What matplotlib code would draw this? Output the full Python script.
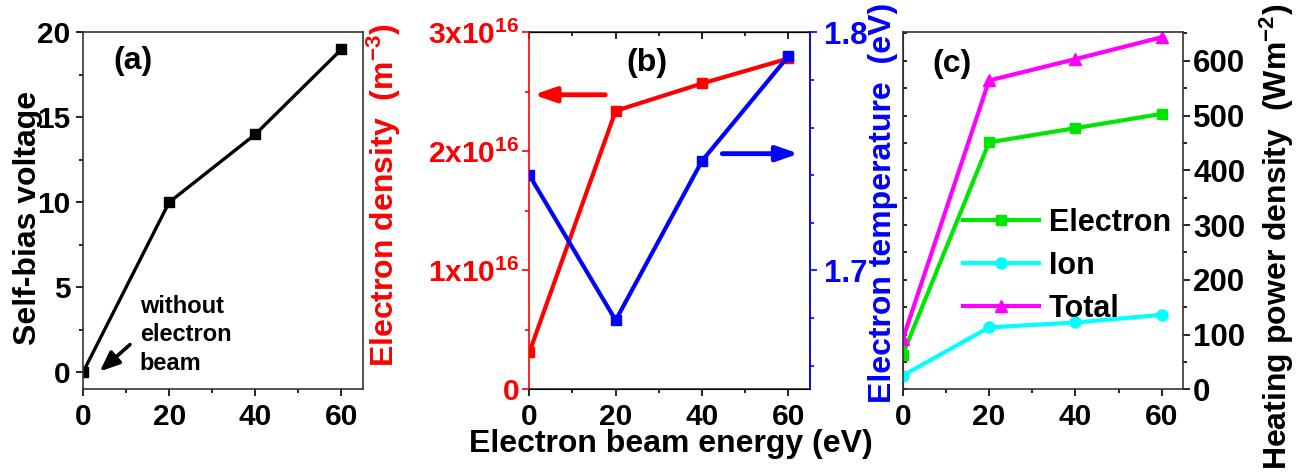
import matplotlib
matplotlib.use("Agg")
import matplotlib.pyplot as plt
import numpy as np
from matplotlib.ticker import FixedLocator, FixedFormatter, MultipleLocator

plt.rcParams['font.family'] = 'Liberation Sans'
plt.rcParams['font.weight'] = 'bold'
plt.rcParams['axes.labelweight'] = 'bold'
plt.rcParams['mathtext.fontset'] = 'custom'
plt.rcParams['mathtext.rm'] = 'Liberation Sans:bold'
plt.rcParams['mathtext.bf'] = 'Liberation Sans:bold'
plt.rcParams['mathtext.default'] = 'bf'

# data
energy = [0, 20, 40, 60]
self_bias = [0, 10, 14, 19]
density = [0.31e16, 2.34e16, 2.57e16, 2.78e16]
temperature = [1.740, 1.679, 1.746, 1.790]
heat_electron = [63, 451, 477, 503]
heat_ion = [25, 113, 122, 136]
heat_total = [91, 564, 603, 643]

density_ticks = [0, 1e16, 2e16, 3e16]
density_labels = ['0', '1x10$^{16}$', '2x10$^{16}$', '3x10$^{16}$']

RED = '#ff0000'
BLUE = '#0000ff'
GREEN = '#00e600'
CYAN = '#00ffff'
MAGENTA = '#ff00ff'

TICK_FS = 21.5
LABEL_FS = 23
LW = 2.4
MS = 7.5

fig = plt.figure(figsize=(13.04, 4.76), dpi=100)
W, H = 1304, 476


def make_axes(left, right, top=32.3, bottom=389.3):
    return fig.add_axes([left / W, (H - bottom) / H, (right - left) / W, (bottom - top) / H])


def style_bottom(ax):
    ax.set_xlim(0, 65)
    ax.xaxis.set_major_locator(MultipleLocator(20))
    ax.xaxis.set_minor_locator(MultipleLocator(10))
    ax.tick_params(axis='x', which='major', direction='out', length=5, width=1.2,
                   labelsize=TICK_FS, pad=5)
    ax.tick_params(axis='x', which='minor', direction='out', length=3, width=1.2)
    for s in ax.spines.values():
        s.set_linewidth(1.2)
        s.set_color('#333333')


# ---------------- (a)
ax_a = make_axes(83, 363)
ax_a.plot(energy, self_bias, color='k', lw=LW, marker='s', ms=MS)
style_bottom(ax_a)
ax_a.set_ylim(-1, 20)
ax_a.yaxis.set_major_locator(MultipleLocator(5))
ax_a.yaxis.set_minor_locator(MultipleLocator(2.5))
ax_a.tick_params(axis='y', which='major', direction='out', length=5, width=1.2,
                 labelsize=TICK_FS, pad=4)
ax_a.tick_params(axis='y', which='minor', direction='out', length=3, width=1.2)
ax_a.set_ylabel('Self-bias voltage', fontsize=LABEL_FS)
ax_a.yaxis.set_label_coords(-0.143, 0.48)
ax_a.text(0.107, 0.92, '(a)', transform=ax_a.transAxes, fontsize=23, ha='left', va='center')
ax_a.text(13.2, 2.2, 'without\nelectron\nbeam', fontsize=17, ha='left', va='center',
          linespacing=1.3)
ax_a.annotate('', xy=(3.9, 0.05), xytext=(10.9, 1.63),
              arrowprops=dict(arrowstyle='-|>,head_length=1.2,head_width=0.5',
                              lw=2.6, color='k', shrinkA=0, shrinkB=0))

# ---------------- (b)
ax_b = make_axes(529.3, 810)
ax_b.plot(energy, density, color=RED, lw=LW + 0.6, marker='s', ms=MS)
style_bottom(ax_b)
ax_b.set_ylim(0, 3e16)
ax_b.yaxis.set_major_locator(FixedLocator(density_ticks))
ax_b.yaxis.set_major_formatter(FixedFormatter(density_labels))
ax_b.yaxis.set_minor_locator(MultipleLocator(0.5e16))
ax_b.tick_params(axis='y', which='major', direction='out', length=5, width=1.2,
                 labelsize=TICK_FS, pad=2, colors=RED)
ax_b.tick_params(axis='y', which='minor', direction='out', length=3, width=1.2, colors=RED)
ax_b.spines['left'].set_color(RED)
ax_b.set_ylabel('Electron density  (m$^{-3}$)', fontsize=LABEL_FS, color=RED)
ax_b.yaxis.set_label_coords(-0.45, 0.544)
ax_b.set_xlabel('Electron beam energy (eV)', fontsize=LABEL_FS)
ax_b.xaxis.set_label_coords(0.505, -0.112)
top_b = ax_b.secondary_xaxis('top')
top_b.xaxis.set_major_locator(MultipleLocator(20))
top_b.xaxis.set_minor_locator(MultipleLocator(10))
top_b.tick_params(which='both', direction='in', labeltop=False, width=1.2)
top_b.tick_params(which='major', length=5)
top_b.tick_params(which='minor', length=3)
ax_b.annotate('', xy=(1.0, 2.475e16), xytext=(17.6, 2.475e16),
              arrowprops=dict(arrowstyle='-|>,head_length=1.3,head_width=0.45',
                              lw=3.5, color=RED, shrinkA=0, shrinkB=0))
ax_b.text(0.42, 0.915, '(b)', transform=ax_b.transAxes, fontsize=23, ha='center', va='center')

ax_t = ax_b.twinx()
ax_t.plot(energy, temperature, color=BLUE, lw=LW + 0.6, marker='s', ms=MS)
ax_t.set_ylim(1.65, 1.8)
ax_t.yaxis.set_major_locator(FixedLocator([1.7, 1.8]))
ax_t.yaxis.set_major_formatter(FixedFormatter(['1.7', '1.8']))
ax_t.yaxis.set_minor_locator(MultipleLocator(0.02))
ax_t.tick_params(axis='y', which='major', direction='out', length=5, width=1.2,
                 labelsize=TICK_FS + 1, pad=5, colors=BLUE)
ax_t.tick_params(axis='y', which='minor', direction='out', length=3, width=1.2, colors=BLUE)
ax_t.spines['right'].set_color(BLUE)
ax_t.spines['right'].set_linewidth(1.2)
ax_t.spines['left'].set_visible(False)
ax_t.set_ylabel('Electron temperature  (eV)', fontsize=LABEL_FS, color=BLUE)
ax_t.yaxis.set_label_coords(1.207, 0.522)
ax_t.annotate('', xy=(62.4, 1.749), xytext=(44.7, 1.749),
              arrowprops=dict(arrowstyle='-|>,head_length=1.3,head_width=0.45',
                              lw=3.5, color=BLUE, shrinkA=0, shrinkB=0))

# ---------------- (c)
ax_c = make_axes(902.7, 1183.3)
ax_c.plot(energy, heat_electron, color=GREEN, lw=LW + 0.6, marker='s', ms=MS, label='Electron')
ax_c.plot(energy, heat_ion, color=CYAN, lw=LW + 0.6, marker='o', ms=MS + 0.5, label='Ion')
ax_c.plot(energy, heat_total, color=MAGENTA, lw=LW + 0.6, marker='^', ms=MS + 1, label='Total')
style_bottom(ax_c)
ax_c.set_ylim(0, 652)
ax_c.yaxis.tick_right()
ax_c.yaxis.set_label_position('right')
ax_c.yaxis.set_major_locator(MultipleLocator(100))
ax_c.yaxis.set_minor_locator(MultipleLocator(50))
ax_c.tick_params(axis='y', which='major', direction='out', length=5, width=1.2,
                 labelsize=TICK_FS + 1, pad=2)
ax_c.tick_params(axis='y', which='minor', direction='out', length=3, width=1.2)
ax_c.set_ylabel('Heating power density  (Wm$^{-2}$)', fontsize=LABEL_FS)
ax_c.yaxis.set_label_coords(1.266, 0.427)
left_c = ax_c.secondary_yaxis('left')
left_c.yaxis.set_major_locator(MultipleLocator(50))
left_c.tick_params(direction='in', labelleft=False, length=3, width=1.2)
ax_c.text(0.105, 0.91, '(c)', transform=ax_c.transAxes, fontsize=23, ha='left', va='center')
ax_c.legend(loc='upper left', bbox_to_anchor=(0.215, 0.508), frameon=False, fontsize=22,
            handlelength=2.5, handletextpad=0.3, labelspacing=0.42,
            borderpad=0, borderaxespad=0)

fig.savefig('out.png', dpi=100)
